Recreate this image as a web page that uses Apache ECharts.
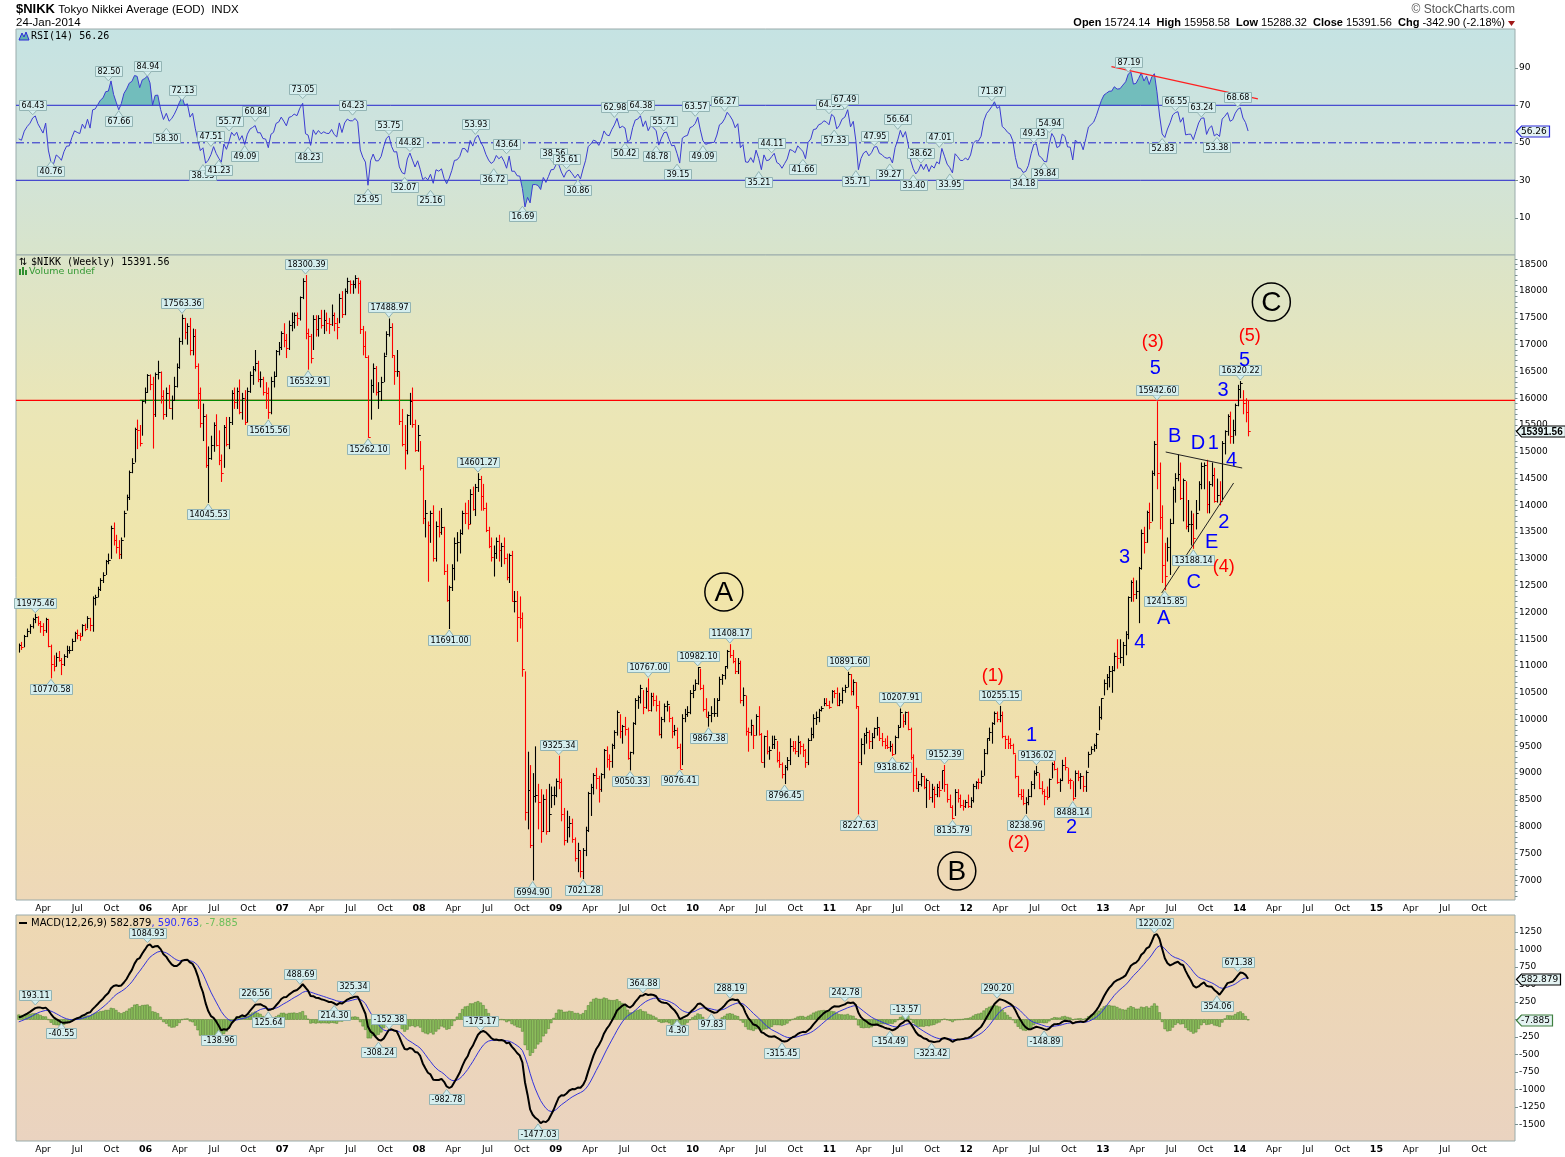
<!DOCTYPE html>
<html><head><meta charset="utf-8">
<script src="https://cdn.jsdelivr.net/npm/echarts@6/dist/echarts.min.js"></script>
<style>html,body{margin:0;padding:0;background:#fff}#c{width:1565px;height:1157px}</style>
</head><body><div id="c"></div>
<script>
// ---------- DATA: weekly bars [high, low, close], first bar = week ending Fri 28-Jan-2005 ----------
const firstWeek = '2005-01-28';
const w2005 = [
[11420,11250,11387],[11450,11300,11360],[11580,11350,11553],[11700,11540,11660],[11780,11600,11740],
[11900,11700,11873],[11975,11800,11923],[11930,11750,11810],[11840,11620,11740],[11800,11560,11668],
[11900,11620,11874],[11880,11350,11370],[11400,10770,11045],[11200,10900,11008],[11250,10990,11172],
[11280,11080,11120],[11150,10830,11037],[11220,11000,11193],[11380,11150,11300],[11370,11230,11305],
[11510,11280,11470],[11640,11450,11610],[11680,11500,11584],[11620,11470,11565],[11780,11560,11760],
[11790,11650,11695],[11930,11700,11900],[11900,11650,11766],[12300,11640,12261],[12330,12130,12291],
[12480,12280,12439],[12640,12400,12600],[12750,12550,12692],[12980,12700,12958],[13100,12900,12986],
[13620,13000,13574],[13680,13250,13359],[13450,13100,13227],[13350,12996,13091],[13400,13000,13346],
[13900,13400,13866],[14200,13900,14155],[14650,14100,14623],[14880,14600,14784],[15450,14800,15421],
[15600,15050,15404],[15500,15100,15173],[15960,15300,15941],[16200,15900,16111]];
const w2006 = [
[16450,16100,16425],[16445,16150,16268],[16400,15059,15696],[16480,15650,16460],
[16700,16350,16491],[16500,15900,16050],[16150,15600,15713],[16200,15650,16101],
[16250,15800,15821],[16050,15600,15970],[16400,15950,16228],[16650,16200,16580],[17130,16550,17059],
[17563,17000,17490],[17500,17100,17233],[17400,17000,17346],[17500,16800,16906],
[17300,16800,17153],[17290,16550,16601],[16650,15800,16090],[16200,15450,15540],
[15900,15200,15670],[15700,14700,14750],[15100,14045,14880],[15300,14850,15124],[15550,15000,15505],
[15700,15100,15130],[15400,14750,14845],[14950,14437,14600],[15500,14700,15456],
[15650,15100,15154],[15650,15050,15565],[16150,15500,16106],[16200,15800,15938],
[16200,15800,16140],[16350,15700,15750],[16100,15600,16000],[16150,15500,15557],[16200,15550,16127],
[16500,16100,16436],[16600,16250,16537],[16900,16500,16651],[16700,16300,16350],
[16500,16200,16350],[16400,16050,16112],[16300,15800,16091],[16200,15615,15734],
[16400,15700,16321],[16500,16200,16417],[16900,16400,16879],[17050,16800,16951],[17250,16900,17225]];
const w2007 = [
[17400,16950,17091],[17200,16750,16942],[17450,16900,17371],[17600,17250,17420],
[17600,17300,17547],[17600,17350,17504],[17900,17450,17897],[18240,17850,18188],
[18300,17100,17217],[17300,16533,17164],[17200,16650,16744],[17550,16900,17481],[17550,17150,17288],
[17550,17150,17490],[17650,17300,17364],[17650,17200,17452],[17600,17250,17400],
[17500,17200,17394],[17750,17350,17553],[17600,17250,17400],[17500,17100,17325],
[17950,17400,17876],[18000,17500,17580],[18050,17550,18001],[18250,17950,18188],[18200,17950,18138],
[18200,17950,18140],[18297,18050,18238],[18250,17950,18157],[18200,17200,17284],
[17350,16800,16979],[17250,16750,16765],[16800,15262,15273],[16350,15600,16248],[16650,16100,16569],
[16600,16050,16123],[16300,15800,16127],[16400,15950,16312],[16850,16300,16786],
[17250,16800,17199],[17489,17150,17331],[17400,16750,16814],[16800,16250,16505],
[16900,16400,16517],[16500,15500,15583],[15800,15100,15154],[15500,14669,15042],[15700,14950,15680],
[16100,15500,15956],[16200,15450,15514],[15600,15000,15031],[15500,15000,15307]];
const w2008 = [
[15200,14650,14691],[14750,13650,13764],[14100,13400,13861],[13700,12573,13629],
[13900,13300,13859],[14000,12950,13017],[13700,12950,13622],[13900,13400,13500],[13950,13450,13603],
[13600,12700,12782],[12900,12200,12241],[12500,11691,12480],[12900,12400,12821],
[13400,12600,13293],[13500,12950,13323],[13550,13100,13476],[13900,13450,13863],
[14050,13650,13849],[14100,13550,13655],[14300,13650,14219],[14350,13900,13938],[14400,13800,14338],
[14601,14250,14489],[14550,13900,14183],[14400,13900,13943],[14050,13500,13544],
[13600,13200,13237],[13400,12950,13039],[13250,12670,13110],[13400,13000,13334],
[13450,12950,13168],[13300,12850,13249],[13400,12900,13019],[13100,12600,12666],[13100,12550,13072],
[13150,12200,12212],[12400,12000,12214],[12400,11450,11920],[12300,11700,11893],
[12000,10800,10938],[10900,8115,8276],[9400,7950,8693],[9150,7600,7649],[9000,6995,8577],
[9500,8450,8583],[8800,7950,8462],[8700,7700,7910],[8600,7900,8512],
[8700,7850,7917],[8800,7900,8235],[8750,8350,8588],[8750,8400,8599]];
const w2009 = [
[8900,8550,8860],[9325,8700,8836],[8900,8100,8230],[8350,7650,7745],[8300,7700,7994],
[8200,7800,8076],[8150,7700,7779],[7800,7350,7416],[7700,7150,7568],
[7550,7050,7173],[7600,7021,7569],[8000,7450,7945],[8650,7900,8626],
[8800,8200,8749],[9000,8600,8964],[9100,8700,8907],[8950,8450,8707],
[9000,8650,8977],[9450,8900,9432],[9500,9100,9265],[9350,9050,9225],[9550,9100,9523],
[9800,9450,9768],[10170,9700,10135],[10100,9650,9786],[9900,9550,9877],
[10050,9700,9816],[9850,9250,9287],[9400,9050,9395],[9950,9350,9944],[10400,9900,10357],
[10450,10200,10412],[10650,10300,10597],[10550,10100,10238],[10600,10200,10534],
[10767,10150,10187],[10500,10150,10444],[10500,10250,10370],[10450,10150,10265],
[10350,9700,9731],[10050,9650,10016],[10300,9950,10257],[10350,10150,10282],[10250,9950,10034],
[10050,9650,9789],[9900,9700,9804],[9850,9450,9497],[9550,9076,9081],
[10100,9150,10022],[10200,9950,10107],[10250,10050,10142],[10550,10100,10494]];
const w2010 = [
[10650,10400,10546],[10750,10550,10682],[10982,10650,10982],[10950,10550,10590],[10650,10150,10198],
[10400,10050,10057],[10150,9867,10092],[10250,9950,10123],[10400,10050,10126],
[10400,10050,10368],[10800,10350,10751],[10850,10650,10824],[11000,10750,10996],
[11300,10950,11286],[11408,11150,11204],[11300,11050,11102],[11150,10850,10914],[11150,10850,11057],
[11100,10300,10364],[10600,10250,10462],[10450,9700,9784],[9850,9400,9768],
[10000,9700,9901],[9900,9450,9705],[10100,9700,10067],[10250,9700,9737],
[9750,9200,9203],[9700,9100,9685],[9800,9350,9408],[9500,9250,9431],[9700,9450,9537],
[9700,9450,9642],[9600,9200,9253],[9400,9100,9179],[9200,8900,8991],
[9150,8796,9114],[9300,9050,9239],[9650,9150,9509],[9600,9400,9471],
[9600,9350,9404],[9700,9300,9588],[9600,9350,9500],[9550,9300,9426],[9450,9100,9202],
[9650,9150,9625],[9850,9600,9724],[10100,9650,10022],[10150,9900,10039],
[10200,9950,10178],[10250,10150,10211],[10400,10250,10303],[10400,10250,10279],[10350,10200,10229]];
const w2011 = [
[10550,10300,10541],[10550,10400,10499],[10600,10250,10274],[10500,10250,10360],
[10600,10300,10543],[10650,10500,10605],[10892,10600,10842],[10850,10450,10526],
[10750,10450,10693],[10700,10200,10254],[10250,8228,9206],[9650,9150,9536],
[9750,9350,9708],[9850,9550,9768],[9800,9450,9591],[9750,9450,9682],[9850,9650,9849],
[10050,9700,9859],[9850,9600,9648],[9750,9500,9607],[9650,9450,9521],
[9700,9450,9492],[9600,9400,9514],[9550,9319,9351],[9700,9350,9678],
[9900,9650,9868],[10208,9850,10137],[10100,9850,9974],[10150,9900,10132],[10150,9800,9833],
[9850,9250,9299],[9350,8650,8963],[9100,8700,8719],[8850,8650,8797],
[9000,8750,8950],[8950,8700,8737],[8900,8350,8864],[8850,8500,8560],[8800,8450,8700],
[8750,8350,8605],[8800,8550,8747],[8850,8550,8678],[9050,8700,9050],
[9152,8650,8801],[8800,8450,8514],[8600,8350,8374],[8400,8136,8160],
[8700,8200,8643],[8700,8450,8536],[8600,8350,8401],[8500,8300,8395],[8500,8350,8455]];
const w2012 = [
[8600,8350,8390],[8550,8350,8500],[8800,8450,8766],[8850,8700,8841],
[8900,8700,8831],[9050,8800,8947],[9450,8950,9384],[9650,9350,9647],
[9850,9600,9777],[9950,9550,9929],[10150,9900,10129],[10150,9950,10011],[10255,9950,10083],
[10150,9650,9688],[9700,9450,9637],[9700,9450,9561],[9650,9450,9520],
[9550,9350,9380],[9350,8900,8953],[8950,8550,8611],[8700,8500,8580],
[8700,8400,8440],[8550,8239,8459],[8700,8400,8569],[8850,8550,8798],[9050,8700,9006],
[9136,8950,9020],[9000,8700,8724],[8850,8600,8669],[8700,8400,8566],
[8750,8500,8555],[8900,8550,8891],[9200,8900,9162],[9250,9050,9070],[9100,8800,8839],
[8900,8650,8871],[9250,8850,9159],[9300,9050,9110],[9100,8800,8870],
[8900,8700,8863],[8850,8488,8534],[9050,8550,9002],[9050,8850,8933],
[9000,8700,8946],[8950,8650,8757],[9050,8650,9024],[9400,9100,9366],[9500,9350,9446],
[9550,9400,9527],[9750,9450,9737],[10250,9800,10040],[10400,10000,10395]];
const w2013 = [
[10750,10450,10688],[10850,10550,10801],[11000,10600,10913],[11000,10500,10926],
[11250,10900,11191],[11500,10950,11153],[11500,11050,11173],[11450,11000,11385],
[11650,11200,11606],[12300,11500,12283],[12600,12200,12560],[12650,12200,12338],[12600,12250,12397],
[12850,11800,12833],[13550,12800,13485],[13600,13100,13317],[13900,13300,13884],
[14050,13550,13694],[14650,13700,14607],[15200,14550,15138],[15943,14300,14612],[14800,13550,13774],
[14000,12550,12877],[13300,12416,12686],[13400,12950,13230],[13750,12700,13677],
[14350,13650,14310],[14600,14050,14506],[14950,14450,14589],[14800,14100,14129],
[14500,13700,14467],[14450,13550,13615],[14100,13500,13650],[13900,13250,13660],[13850,13188,13389],
[14100,13550,13861],[14450,13900,14404],[14800,14300,14742],[14800,14300,14760],
[14850,13850,14024],[14450,13850,14404],[14800,14350,14561],[14700,14050,14088],
[14500,14050,14201],[14450,14000,14086],[15200,14100,15166],[15400,14950,15382],[15700,15300,15662],
[15750,15150,15300],[15600,15150,15403],[15900,15300,15870],[16250,15850,16178]];
const w2014 = [
[16320,16000,16291],[16150,15700,15912],[16000,15550,15734],[15958.58,15288.32,15391.56]];
// closes of the weeks before the chart, used only to seed RSI / MACD
const warmupCloses = [11721,11423,11436,11187,11325,11064,10908,10757,11131,11081,11152,11129,11082,10895,10823,10986,10982,10659,10771,11012,11151,11082,10899,10785,10940,11078,11408,11489,11437,11438,11238];

// tick labels
const priceTicks = [7000,7500,8000,8500,9000,9500,10000,10500,11000,11500,12000,12500,13000,13500,14000,14500,15000,15500,16000,16500,17000,17500,18000,18500];
const rsiTicks = [10,30,50,70,90];
const macdTicks = [-1500,-1250,-1000,-750,-500,-250,0,250,500,750,1000,1250];
const MONTHS = ['Jan','Feb','Mar','Apr','May','Jun','Jul','Aug','Sep','Oct','Nov','Dec'];

// value callouts: [week index, value, 1 = above / -1 = below]
const priceCallouts = [[6,11975.46,1],[12,10770.58,-1],[62,17563.36,1],[72,14045.53,-1],[95,15615.56,-1],[109,18300.39,1],[110,16532.91,-1],[133,15262.10,-1],[141,17488.97,1],[164,11691.00,-1],[175,14601.27,1],[196,6994.90,-1],[206,9325.34,1],[215,7021.28,-1],[233,9050.33,-1],[240,10767.00,1],[252,9076.41,-1],[259,10982.10,1],[263,9867.38,-1],[271,11408.17,1],[292,8796.45,-1],[316,10891.60,1],[320,8227.63,-1],[333,9318.62,-1],[336,10207.91,1],[353,9152.39,1],[356,8135.79,-1],[374,10255.15,1],[384,8238.96,-1],[388,9136.02,1],[402,8488.14,-1],[434,15942.60,1],[437,12415.85,-1],[448,13188.14,-1],[466,16320.22,1]];
const rsiCallouts = [[5,64.43,1],[12,40.76,-1],[34,82.50,1],[38,67.66,-1],[49,84.94,1],[56,58.30,-1],[62,72.13,1],[70,38.93,-1],[73,47.51,1],[76,41.23,-1],[80,55.77,1],[86,49.09,-1],[90,60.84,1],[108,73.05,1],[110,48.23,-1],[127,64.23,1],[133,25.95,-1],[141,53.75,1],[147,32.07,-1],[149,44.82,1],[157,25.16,-1],[174,53.93,1],[181,36.72,-1],[186,43.64,1],[192,16.69,-1],[204,38.56,1],[209,35.61,1],[213,30.86,-1],[227,62.98,1],[231,50.42,-1],[237,64.38,1],[243,48.78,-1],[246,55.71,1],[251,39.15,-1],[258,63.57,1],[261,49.09,-1],[269,66.27,1],[282,35.21,-1],[287,44.11,1],[299,41.66,-1],[309,64.95,1],[311,57.33,-1],[315,67.49,1],[319,35.71,-1],[326,47.95,1],[332,39.27,-1],[335,56.64,1],[341,33.40,-1],[344,38.62,1],[351,47.01,1],[355,33.95,-1],[371,71.87,1],[383,34.18,-1],[387,49.43,1],[391,39.84,-1],[393,54.94,1],[423,87.19,1],[436,52.83,-1],[441,66.55,1],[451,63.24,1],[457,53.38,-1],[465,68.68,1]];
const macdCallouts = [[6,193.11,1],[16,-40.55,-1],[49,1084.93,1],[76,-138.96,-1],[90,226.56,1],[95,125.64,-1],[107,488.69,1],[120,214.30,-1],[127,325.34,1],[137,-308.24,-1],[141,-152.38,1],[163,-982.78,-1],[176,-175.17,1],[198,-1477.03,-1],[238,364.88,1],[251,4.30,-1],[264,97.83,-1],[271,288.19,1],[291,-315.45,-1],[315,242.78,1],[332,-154.49,-1],[338,-13.57,1],[348,-323.42,-1],[373,290.20,1],[391,-148.89,-1],[433,1220.02,1],[457,354.06,-1],[465,671.38,1]];

// Elliott wave annotations: text, kind, [month position, price]
const waveText = ['A','B','C','(1)','(2)','(3)','(4)','(5)','1','2','3','4','5','A','B','C','D','1','E','2','4','3','5'];
const waveKind = ['circ','circ','circ','red','red','red','red','red','blue','blue','blue','blue','blue','blue','blue','blue','blue','blue','blue','blue','blue','blue','blue'];
const wavePos = [[62.74,12382],[83.18,7172],[110.78,17796],[86.33,10813],[88.61,7695],[100.37,17049],[106.6,12848],[108.88,17161],[89.75,9712],[93.26,7994],[97.91,13035],[99.23,11448],[100.59,16564],[101.33,11896],[102.3,15294],[103.96,12568],[104.35,15164],[105.68,15164],[105.54,13297],[106.6,13689],[107.3,14846],[106.55,16153],[108.44,16713]];
const triangleTop = [[101.51,14996],[108.22,14697]];
const triangleBottom = [[101.16,12363],[107.47,14417]];
const rsiTrend = [[96.75,90.6],[109.6,73.4]];
const refLevel = 15960;

// ---------- derived ----------
const bars = [].concat(w2005,w2006,w2007,w2008,w2009,w2010,w2011,w2012,w2013,w2014);
const closes = bars.map(b => b[2]);
function monthPos(ms){const d=new Date(ms);const y=d.getUTCFullYear(),mo=d.getUTCMonth(),day=d.getUTCDate();const dim=new Date(Date.UTC(y,mo+1,0)).getUTCDate();return (y-2005)*12+mo+(day-1)/dim;}
const t0 = Date.parse(firstWeek+'T00:00:00Z');
const weekX = bars.map((b,i) => monthPos(t0 + i*7*864e5));
const X_MIN = 0.63, X_MAX = 132.16;

const allC = warmupCloses.concat(closes);
function rsiCalc(cl,n){const out=new Array(cl.length).fill(null);let g=0,l=0;for(let i=1;i<=n;i++){const d=cl[i]-cl[i-1];if(d>0)g+=d;else l-=d;}g/=n;l/=n;out[n]=100-100/(1+g/l);for(let i=n+1;i<cl.length;i++){const d=cl[i]-cl[i-1];g=(g*(n-1)+Math.max(d,0))/n;l=(l*(n-1)+Math.max(-d,0))/n;out[i]=l===0?100:100-100/(1+g/l);}return out;}
function ema(a,n){const k=2/(n+1);const o=[];let e=a[0];for(let i=0;i<a.length;i++){e=i===0?a[0]:a[i]*k+e*(1-k);o.push(e);}return o;}
const W = warmupCloses.length;
const rsiAll = rsiCalc(allC,14);
const e12 = ema(allC,12), e26 = ema(allC,26);
const macdAll = e12.map((v,i)=>v-e26[i]);
const sigAll = ema(macdAll,9);
const rsiPts = weekX.map((x,i)=>[x, rsiAll[i+W]]);
const macdPts = weekX.map((x,i)=>[x, macdAll[i+W]]);
const sigPts = weekX.map((x,i)=>[x, sigAll[i+W]]);
const histPts = weekX.map((x,i)=>[x, macdAll[i+W]-sigAll[i+W]]);
const barData = bars.map((b,i)=>[weekX[i], b[0], b[1], b[2], (i>0 ? b[2] < bars[i-1][2] : b[2] < warmupCloses[W-1]) ? 1 : 0]);

// ---------- renderers ----------
const mctx = document.createElement('canvas').getContext('2d');
const CFONT = '8px "DejaVu Sans"';
function textW(t,f){mctx.font=f;return mctx.measureText(t).width;}
function calloutData(list){return list.map(c=>[weekX[c[0]], c[1], c[2]]);}
function calloutRender(list){
  return function(params, api){
    const c = list[params.dataIndex];
    const t = c[1].toFixed(2);
    const p = api.coord([api.value(0), api.value(1)]);
    const dir = api.value(2);
    const w = Math.round(textW(t,CFONT))+4, h = 10;
    const tipY = p[1] - dir*1;
    const baseY = tipY - dir*5;
    const boxY = dir>0 ? baseY-h : baseY;
    const bx = Math.round(p[0]-w/2)+0.5, by = Math.round(boxY)+0.5;
    const FILL='#d5eeee', STR='#93b4b4';
    return {type:'group', children:[
      {type:'rect', shape:{x:bx,y:by,width:w,height:h}, style:{fill:FILL, stroke:STR, lineWidth:1}},
      {type:'polygon', shape:{points:[[p[0]-4,by+(dir>0?h:0)],[p[0]+4,by+(dir>0?h:0)],[p[0],tipY]]}, style:{fill:FILL}},
      {type:'polyline', shape:{points:[[p[0]-4,by+(dir>0?h:0)],[p[0],tipY],[p[0]+4,by+(dir>0?h:0)]]}, style:{stroke:STR, lineWidth:1, fill:null}},
      {type:'text', style:{text:t, x:bx+w/2, y:by+h/2+0.5, align:'center', verticalAlign:'middle', font:CFONT, fill:'#000'}}
    ]};
  };
}
function renderBar(params, api){
  const x=api.value(0);
  const hi=api.coord([x,api.value(1)]), lo=api.coord([x,api.value(2)]), c=api.coord([x,api.value(3)]);
  const col = api.value(4) ? '#ff0000' : '#000000';
  const px = Math.round(hi[0])+0.5, cy = Math.round(c[1])+0.5;
  return {type:'group', children:[
    {type:'line', shape:{x1:px,y1:hi[1],x2:px,y2:lo[1]}, style:{stroke:col, lineWidth:1.1}},
    {type:'line', shape:{x1:px,y1:cy,x2:px+2.2,y2:cy}, style:{stroke:col, lineWidth:1}}
  ]};
}
function renderHist(params, api){
  const x=api.value(0), h=api.value(1);
  const a=api.coord([x,0]), b=api.coord([x,h]);
  return {type:'rect', shape:{x:a[0]-1.1, y:Math.min(a[1],b[1]), width:2.2, height:Math.max(0.5,Math.abs(a[1]-b[1]))}, style:{fill:'#8ec05e', stroke:'#4a7d2a', lineWidth:0.5}};
}
function clipPolys(pts,thr,above){
  const polys=[];let cur=null;
  const inside=v=>above?v>thr:v<thr;
  for(let i=0;i<pts.length;i++){
    const v=pts[i][1], ins=inside(v);
    if(i>0){const pv=pts[i-1][1], pin=inside(pv);
      if(pin!==ins){const t=(thr-pv)/(v-pv);const xc=pts[i-1][0]+t*(pts[i][0]-pts[i-1][0]);
        if(pin){cur.push([xc,thr]);polys.push(cur);cur=null;} else {cur=[[xc,thr]];}
      }}
    if(ins){if(!cur)cur=[[pts[i][0],thr]];cur.push(pts[i]);}
  }
  if(cur){cur.push([pts[pts.length-1][0],thr]);polys.push(cur);}
  return polys;
}
function renderRsiFill(params, api){
  const ch=[];
  [[70,true],[30,false]].forEach(([thr,ab])=>{
    clipPolys(rsiPts,thr,ab).forEach(poly=>{
      ch.push({type:'polygon', shape:{points:poly.map(p=>api.coord(p))}, style:{fill:'#72bdbc'}});
    });
  });
  return {type:'group', children:ch};
}
function renderWave(params, api){
  const i=params.dataIndex; const p=api.coord([api.value(0),api.value(1)]);
  const k=waveKind[i], t=waveText[i];
  if(k==='circ') return {type:'group', children:[
    {type:'circle', shape:{cx:p[0],cy:p[1],r:19}, style:{fill:'rgba(0,0,0,0)', stroke:'#000', lineWidth:1.5}},
    {type:'text', style:{text:t, x:p[0], y:p[1]+1, align:'center', verticalAlign:'middle', font:'28px "Liberation Sans"', fill:'#000'}}]};
  const col = k==='red' ? '#ff0000' : '#0000ff';
  const sz = k==='red' ? 18 : 20;
  return {type:'text', style:{text:t, x:p[0], y:p[1], align:'center', verticalAlign:'middle', font:sz+'px "Liberation Sans"', fill:col}};
}
function tagSeries(gi, value, text, border, font, fill){
  return {type:'custom', xAxisIndex:gi, yAxisIndex:gi, z:20, silent:true, clip:false, data:[[X_MAX, value]],
    renderItem:function(params, api){
      const p=api.coord([api.value(0),api.value(1)]);
      const w=Math.round(textW(text,font))+7, h=11, x=Math.round(p[0])+1.5, y=Math.round(p[1])+0.5;
      return {type:'group', children:[
        {type:'polygon', shape:{points:[[x,y],[x+5,y-h/2],[x+w,y-h/2],[x+w,y+h/2],[x+5,y+h/2]]}, style:{fill:fill, stroke:border, lineWidth:1.2}},
        {type:'text', style:{text:text, x:x+4.5, y:y+0.5, align:'left', verticalAlign:'middle', font:font, fill:'#000'}}]};
    }};
}
function hLine(gi, y, color, type){
  return {type:'line', xAxisIndex:gi, yAxisIndex:gi, data:[[X_MIN,y],[X_MAX,y]], symbol:'none', silent:true, z:2,
    lineStyle:{color:color, width:1, type:type}};
}

// ---------- axes ----------
const qTicks=[]; for(let v=3; v<=129; v+=3) qTicks.push(v);
const priceMinor=[]; for(let v=6700; v<=18600; v+=100) priceMinor.push(v);
function xFmt(v){const n=Math.round(v);const k=n%12;if(k===0)return '{y|'+String(2005+n/12).slice(2)+'}';return MONTHS[k];}
function xAx(gi, labels){
  return {type:'value', gridIndex:gi, min:X_MIN, max:X_MAX, axisLine:{show:false}, axisTick:{show:false}, splitLine:{show:false},
    axisLabel: labels ? {show:true, customValues:qTicks, formatter:xFmt, margin:4, fontSize:9, fontFamily:'DejaVu Sans', color:'#000',
      rich:{y:{fontWeight:'bold', fontSize:9.5, fontFamily:'DejaVu Sans', color:'#000'}}} : {show:false}};
}
function yAx(gi,min,max,vals,tickVals,tickLen){
  return {type:'value', gridIndex:gi, position:'right', min:min, max:max, splitLine:{show:false}, axisLine:{show:false},
    axisTick:{show:true, length:tickLen, lineStyle:{color:'#7a8f8f'}, customValues:tickVals},
    axisLabel:{customValues:vals, margin:4, fontSize:9, fontFamily:'DejaVu Sans', color:'#000', formatter:v=>String(v)}};
}
function grad(stops){return {type:'linear',x:0,y:0,x2:0,y2:1,colorStops:stops.map((c,i)=>({offset:i/(stops.length-1),color:c}))};}

const option = {
  animation:false,
  backgroundColor:'#ffffff',
  grid:[
    {left:16, right:50, top:29, height:226, show:true, borderColor:'#9aabab', borderWidth:1, backgroundColor:grad(['#c5e3e3','#cfe3dc','#d8e4cb']), outerBoundsMode:'none'},
    {left:16, right:50, top:255, height:645, show:true, borderColor:'#9aabab', borderWidth:1, backgroundColor:grad(['#dbe4c9','#ebe6b6','#f1e6a9','#efdfae','#eed8b8']), outerBoundsMode:'none'},
    {left:16, right:50, top:915, height:226, show:true, borderColor:'#9aabab', borderWidth:1, backgroundColor:grad(['#eed8b2','#ead3c0']), outerBoundsMode:'none'}
  ],
  xAxis:[xAx(0,false), xAx(1,true), xAx(2,true)],
  yAxis:[yAx(0,-9.84,110.69,rsiTicks,rsiTicks,3), yAx(1,6631,18674,priceTicks,priceMinor,2.5), yAx(2,-1736,1493,macdTicks,macdTicks,3)],
  series:[
    {type:'custom', xAxisIndex:0, yAxisIndex:0, silent:true, data:[[weekX[0],50]], renderItem:renderRsiFill, z:1},
    hLine(0, 70, '#2424cc', 'solid'),
    hLine(0, 30, '#2424cc', 'solid'),
    hLine(0, 50, '#2424cc', [8,3,2,3]),
    {type:'line', xAxisIndex:0, yAxisIndex:0, data:rsiPts, symbol:'none', lineStyle:{color:'#3c3cd2', width:1}, z:3},
    {type:'line', xAxisIndex:0, yAxisIndex:0, data:rsiTrend, symbol:'none', lineStyle:{color:'#ff2020', width:1.2}, z:4},
    {type:'custom', xAxisIndex:0, yAxisIndex:0, silent:true, z:6, clip:false, data:calloutData(rsiCallouts), renderItem:calloutRender(rsiCallouts)},
    tagSeries(0, 56.26, '56.26', '#2a2ad8', '9px "DejaVu Sans"', '#e4f3f3'),

    {type:'line', xAxisIndex:1, yAxisIndex:1, data:[[X_MIN,refLevel],[X_MAX,refLevel]], symbol:'none', lineStyle:{color:'#ff0000', width:1.2}, z:1},
    {type:'line', xAxisIndex:1, yAxisIndex:1, data:[[11.5,refLevel],[35.2,refLevel]], symbol:'none', lineStyle:{color:'#008800', width:1.2}, z:1},
    {type:'custom', xAxisIndex:1, yAxisIndex:1, silent:true, data:barData, renderItem:renderBar, encode:{x:0,y:[1,2]}, z:3},
    {type:'line', xAxisIndex:1, yAxisIndex:1, data:triangleTop, symbol:'none', lineStyle:{color:'#222', width:1}, z:4},
    {type:'line', xAxisIndex:1, yAxisIndex:1, data:triangleBottom, symbol:'none', lineStyle:{color:'#222', width:1}, z:4},
    {type:'custom', xAxisIndex:1, yAxisIndex:1, silent:true, z:6, clip:false, data:calloutData(priceCallouts), renderItem:calloutRender(priceCallouts)},
    {type:'custom', xAxisIndex:1, yAxisIndex:1, silent:true, z:7, clip:false, data:wavePos, renderItem:renderWave},
    tagSeries(1, 15391.56, '15391.56', '#000000', 'bold 10px "Liberation Sans"', '#e8f7f7'),

    {type:'custom', xAxisIndex:2, yAxisIndex:2, silent:true, data:histPts, renderItem:renderHist, z:2},
    {type:'line', xAxisIndex:2, yAxisIndex:2, data:sigPts, symbol:'none', lineStyle:{color:'#3333dd', width:1}, z:3},
    {type:'line', xAxisIndex:2, yAxisIndex:2, data:macdPts, symbol:'none', lineStyle:{color:'#000000', width:2}, z:4},
    {type:'custom', xAxisIndex:2, yAxisIndex:2, silent:true, z:6, clip:false, data:calloutData(macdCallouts), renderItem:calloutRender(macdCallouts)},
    tagSeries(2, 582.879, '582.879', '#000000', '9px "DejaVu Sans"', '#e4f3f3'),
    tagSeries(2, -7.885, '-7.885', '#3f7f3f', '9px "DejaVu Sans"', '#e4f3f3')
  ],
  graphic:[
    {type:'text', x:16, y:3, style:{text:'{a|$NIKK} {b|Tokyo Nikkei Average (EOD)}  {b|INDX}', rich:{a:{fontWeight:'bold', fontSize:13, fontFamily:'Liberation Sans', fill:'#000'}, b:{fontSize:11.5, fontFamily:'Liberation Sans', fill:'#000'}}}},
    {type:'text', x:16, y:17, style:{text:'24-Jan-2014', font:'11.5px "Liberation Sans"', fill:'#000'}},
    {type:'text', x:1515, y:4, style:{text:'© StockCharts.com', align:'right', font:'12px "Liberation Sans"', fill:'#555'}},
    {type:'text', x:1505, y:17, style:{align:'right', text:'{l|Open} 15724.14  {l|High} 15958.58  {l|Low} 15288.32  {l|Close} 15391.56  {l|Chg} -342.90 (-2.18%)',
      fontSize:11, fontFamily:'Liberation Sans', fill:'#000', rich:{l:{fontWeight:'bold', fontSize:11, fontFamily:'Liberation Sans', fill:'#000'}}}},
    {type:'polygon', shape:{points:[[1508,21],[1515,21],[1511.5,26]]}, style:{fill:'#a01818'}},
    {type:'polygon', shape:{points:[[19,40],[22,33],[24,37],[26,32],[29,40]]}, style:{fill:'#5fb0b0', stroke:'#2a2ad8', lineWidth:1}},
    {type:'text', x:31, y:31, style:{text:'RSI(14) 56.26', font:'10px "DejaVu Sans Mono"', fill:'#000'}},
    {type:'text', x:19, y:257, style:{text:'⇅', font:'10px "DejaVu Sans"', fill:'#000'}},
    {type:'text', x:31, y:257, style:{text:'$NIKK (Weekly) 15391.56', font:'10px "DejaVu Sans Mono"', fill:'#000'}},
    {type:'rect', shape:{x:19,y:269,width:2,height:6}, style:{fill:'#2f8f2f'}},
    {type:'rect', shape:{x:22,y:267,width:2,height:8}, style:{fill:'#2f8f2f'}},
    {type:'rect', shape:{x:25,y:270,width:2,height:5}, style:{fill:'#2f8f2f'}},
    {type:'text', x:29, y:267, style:{text:'Volume undef', font:'9.5px "DejaVu Sans"', fill:'#339933'}},
    {type:'rect', shape:{x:19,y:922,width:8,height:2}, style:{fill:'#000'}},
    {type:'text', x:31, y:918, style:{text:'{k|MACD(12,26,9) 582.879}{b|, 590.763}{g|, -7.885}', rich:{
      k:{fontSize:10, fontFamily:'DejaVu Sans', fill:'#000'}, b:{fontSize:10, fontFamily:'DejaVu Sans', fill:'#3030ff'}, g:{fontSize:10, fontFamily:'DejaVu Sans', fill:'#6cbf5a'}}}}
  ]
};
const chart = echarts.init(document.getElementById('c'), null, {renderer:'canvas', width:1565, height:1157});
chart.setOption(option);
</script>
</body></html>
